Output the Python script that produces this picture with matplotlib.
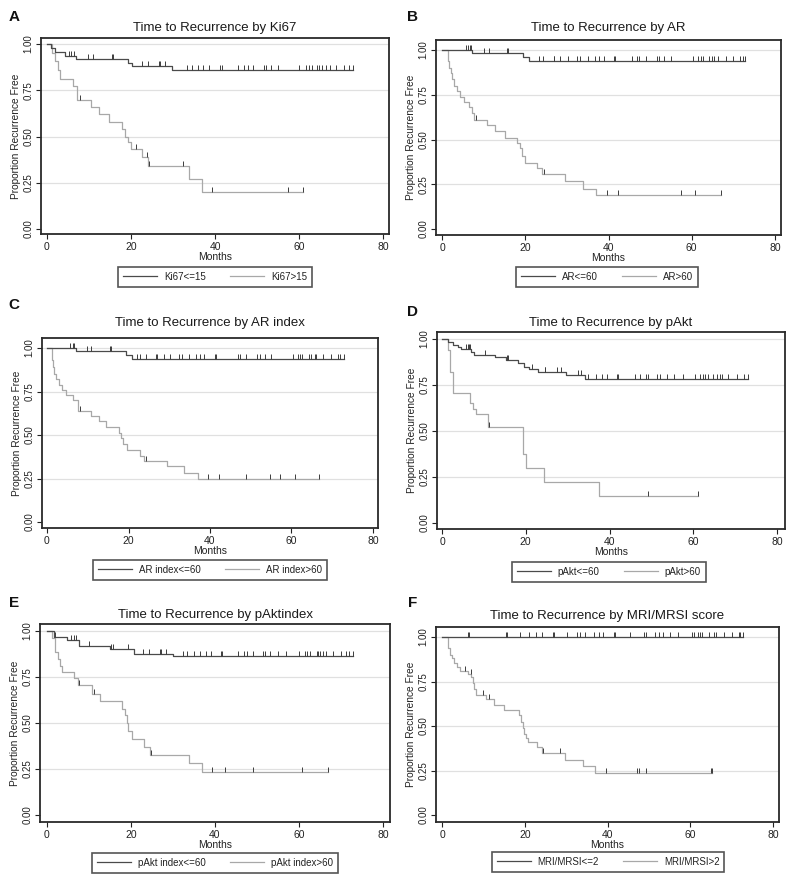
import matplotlib
matplotlib.use('Agg')
import matplotlib.pyplot as plt
from matplotlib.lines import Line2D
from matplotlib.path import Path
import numpy as np

plt.rcParams['font.family'] = ['Liberation Sans', 'DejaVu Sans']

# ---------------- data ----------------
panel_letters = ['A', 'B', 'C', 'D', 'E', 'F']
titles = ['Time to Recurrence by Ki67', 'Time to Recurrence by AR',
          'Time to Recurrence by AR index', 'Time to Recurrence by pAkt',
          'Time to Recurrence by pAktindex', 'Time to Recurrence by MRI/MRSI score']
legend_low = ['Ki67<=15', 'AR<=60', 'AR index<=60', 'pAkt<=60', 'pAkt index<=60', 'MRI/MRSI<=2']
legend_high = ['Ki67>15', 'AR>60', 'AR index>60', 'pAkt>60', 'pAkt index>60', 'MRI/MRSI>2']
x_ticks = [0, 20, 40, 60, 80]
y_ticks = [0.0, 0.25, 0.50, 0.75, 1.00]
y_tick_labels = ['0.00', '0.25', '0.50', '0.75', '1.00']
x_label = 'Months'
y_label = 'Proportion Recurrence Free'

# Panel A: Ki67
ki67_low_times = [1.0, 2.0, 4.4, 6.9, 19.2, 20.3, 29.7]
ki67_low_surv = [0.978, 0.957, 0.937, 0.918, 0.898, 0.879, 0.857]
ki67_low_cens = [5.2, 5.8, 6.4, 9.8, 11.0, 15.4, 15.7, 22.7, 24.0, 26.6, 26.9, 28.1, 33.4,
                 34.6, 36.0, 37.2, 38.6, 41.2, 41.6, 45.4, 46.9, 47.8, 49.0, 51.6, 52.1,
                 53.3, 54.9, 60.1, 61.7, 62.3, 63.0, 64.3, 64.8, 65.5, 66.4, 67.3, 68.9,
                 70.8, 71.8, 72.8]
ki67_high_times = [1.2, 2.0, 2.6, 3.2, 6.1, 7.2, 10.4, 12.3, 14.7, 17.9, 18.6, 19.3, 19.9,
                   22.7, 24.0, 33.7, 36.8]
ki67_high_surv = [0.95, 0.91, 0.86, 0.81, 0.774, 0.70, 0.66, 0.62, 0.58, 0.54, 0.50, 0.47,
                  0.43, 0.39, 0.34, 0.27, 0.20]
ki67_high_cens = [7.8, 21.1, 23.9, 24.4, 32.4, 39.4, 57.3, 60.9]

# Panel B: AR
ar_low_times = [7.2, 19.4, 20.8]
ar_low_surv = [0.981, 0.961, 0.941]
ar_low_cens = [5.8, 6.2, 6.8, 7.0, 10.0, 11.2, 15.6, 15.8, 23.2, 24.2, 26.8, 27.0, 28.4,
               30.2, 32.4, 33.2, 35.0, 36.8, 37.8, 39.0, 41.4, 41.6, 45.6, 46.8, 47.4,
               49.0, 51.6, 52.2, 53.4, 55.0, 60.4, 61.6, 62.2, 62.8, 64.2, 64.8, 65.4,
               66.2, 68.2, 70.0, 71.6, 72.2, 72.8]
ar_high_times = [1.5, 1.8, 2.1, 2.5, 3.0, 3.5, 4.4, 5.2, 6.6, 7.2, 7.6, 10.8, 12.8, 15.2,
                 18.0, 18.8, 19.2, 20.0, 22.8, 24.0, 29.6, 33.8, 37.0]
ar_high_surv = [0.94, 0.90, 0.87, 0.84, 0.80, 0.77, 0.74, 0.71, 0.68, 0.65, 0.61, 0.58,
                0.545, 0.51, 0.48, 0.45, 0.41, 0.37, 0.34, 0.31, 0.27, 0.225, 0.19]
ar_high_cens = [8.2, 24.6, 39.6, 42.4, 57.4, 60.8, 67.0]

# Panel C: AR index
arindex_low_times = [7.2, 19.4, 20.8]
arindex_low_surv = [0.981, 0.962, 0.939]
arindex_low_cens = [5.7, 6.4, 6.7, 9.8, 10.9, 15.5, 15.7, 22.2, 22.9, 24.3, 26.8, 27.1,
                    28.6, 30.1, 32.3, 33.1, 34.8, 36.6, 37.5, 38.6, 41.3, 41.5, 46.8, 47.4,
                    48.9, 51.5, 52.2, 53.4, 55.0, 60.3, 61.6, 62.0, 62.6, 64.2, 64.9, 65.7,
                    66.1, 67.7, 69.8, 71.3, 72.0, 72.8]
arindex_high_times = [1.2, 1.5, 1.8, 2.3, 2.9, 3.7, 4.7, 6.4, 7.5, 7.7, 10.8, 12.7, 14.6,
                      17.6, 18.2, 18.7, 19.6, 22.7, 23.9, 29.4, 33.7, 37.0]
arindex_high_surv = [0.93, 0.89, 0.85, 0.82, 0.79, 0.76, 0.73, 0.70, 0.665, 0.64, 0.61,
                     0.58, 0.545, 0.51, 0.48, 0.45, 0.415, 0.38, 0.35, 0.32, 0.28, 0.245]
arindex_high_cens = [8.0, 24.4, 39.4, 42.3, 48.8, 54.8, 57.1, 60.9, 66.7]

# Panel D: pAkt
pakt_low_times = [1.4, 2.6, 3.8, 4.6, 7.0, 7.6, 12.6, 15.2, 18.2, 19.5, 20.8, 23.0, 29.7, 34.1]
pakt_low_surv = [0.982, 0.967, 0.955, 0.944, 0.93, 0.913, 0.904, 0.886, 0.872, 0.85,
                 0.837, 0.82, 0.805, 0.78]
pakt_low_cens = [5.7, 6.1, 6.5, 6.8, 10.2, 15.6, 15.8, 21.4, 24.6, 24.7, 27.4, 28.5, 32.5,
                 33.3, 34.9, 36.8, 38.1, 39.5, 41.7, 42.1, 46.1, 47.3, 48.7, 49.3, 51.3,
                 52.1, 53.7, 55.3, 57.5, 60.4, 61.6, 62.3, 62.9, 63.6, 64.8, 65.6, 66.4,
                 66.8, 68.4, 70.4, 72.0, 73.0]
pakt_high_times = [1.4, 1.8, 2.6, 6.6, 7.3, 8.1, 11.0, 19.4, 20.0, 24.3, 37.5]
pakt_high_surv = [0.94, 0.82, 0.705, 0.65, 0.62, 0.59, 0.52, 0.376, 0.30, 0.225, 0.148]
pakt_high_cens = [11.2, 49.3, 61.2]

# Panel E: pAkt index
paktindex_low_times = [1.6, 4.75, 7.5, 15.0, 20.6, 29.9]
paktindex_low_surv = [0.967, 0.95, 0.917, 0.904, 0.877, 0.863]
paktindex_low_cens = [1.8, 5.7, 6.5, 7.0, 10.0, 15.2, 15.6, 19.2, 22.8, 24.3, 26.9, 27.1,
                      28.3, 32.5, 33.3, 34.9, 36.4, 37.8, 39.0, 41.4, 41.7, 45.5, 47.0,
                      47.7, 49.1, 51.5, 52.0, 53.2, 54.9, 57.0, 60.0, 61.4, 61.9, 62.6,
                      64.2, 64.6, 65.1, 65.7, 66.4, 68.1, 69.9, 71.3, 71.8, 72.9]
paktindex_high_times = [1.2, 2.0, 2.5, 3.0, 3.6, 6.5, 7.3, 10.7, 12.5, 17.8, 18.6, 19.0,
                        19.4, 20.2, 23.0, 24.6, 33.9, 37.0]
paktindex_high_surv = [0.96, 0.886, 0.85, 0.81, 0.777, 0.745, 0.705, 0.66, 0.617, 0.575,
                       0.545, 0.50, 0.455, 0.412, 0.372, 0.327, 0.28, 0.235]
paktindex_high_cens = [7.7, 11.2, 24.7, 39.4, 42.5, 49.1, 60.8, 66.8]

# Panel F: MRI/MRSI score
mri_low_times = []
mri_low_surv = []
mri_low_cens = [6.4, 6.6, 15.5, 15.7, 18.9, 21.0, 22.8, 24.2, 26.8, 27.0, 30.2, 32.6,
                33.3, 34.6, 36.7, 37.9, 38.8, 41.5, 41.9, 45.5, 48.8, 49.2, 51.6, 52.4,
                53.4, 55.0, 57.0, 60.4, 61.0, 61.9, 62.3, 62.9, 64.5, 65.8, 66.3, 68.1,
                70.1, 71.7, 72.1, 72.8]
mri_high_times = [1.4, 2.0, 2.4, 3.0, 3.6, 4.4, 6.4, 7.0, 7.5, 7.8, 8.1, 10.7, 12.5, 15.1,
                  18.5, 19.1, 19.5, 19.9, 20.4, 20.7, 23.0, 24.2, 29.8, 34.1, 37.0]
mri_high_surv = [0.94, 0.90, 0.88, 0.855, 0.83, 0.81, 0.79, 0.775, 0.74, 0.71, 0.675, 0.65,
                 0.62, 0.59, 0.56, 0.525, 0.49, 0.455, 0.43, 0.41, 0.38, 0.35, 0.31, 0.275,
                 0.235]
mri_high_cens = [5.6, 6.9, 9.9, 11.3, 24.4, 28.6, 39.7, 47.1, 47.5, 49.2, 64.9, 65.3]

panels_data = [
    ((ki67_low_times, ki67_low_surv, ki67_low_cens), (ki67_high_times, ki67_high_surv, ki67_high_cens)),
    ((ar_low_times, ar_low_surv, ar_low_cens), (ar_high_times, ar_high_surv, ar_high_cens)),
    ((arindex_low_times, arindex_low_surv, arindex_low_cens), (arindex_high_times, arindex_high_surv, arindex_high_cens)),
    ((pakt_low_times, pakt_low_surv, pakt_low_cens), (pakt_high_times, pakt_high_surv, pakt_high_cens)),
    ((paktindex_low_times, paktindex_low_surv, paktindex_low_cens), (paktindex_high_times, paktindex_high_surv, paktindex_high_cens)),
    ((mri_low_times, mri_low_surv, mri_low_cens), (mri_high_times, mri_high_surv, mri_high_cens)),
]

# ---------------- layout (pixels) ----------------
W, H = 800, 886
# box (l, t, r, b), x-pixel of 0 and 80, y-pixel of 1.00 and 0.00
geom = [
    dict(box=(41, 38, 389, 234), x0=47, x80=383, y1=44, y0=229, leg=(215, 267), title=28, letter=(14, 17)),
    dict(box=(436, 40, 781, 235), x0=442, x80=775, y1=50, y0=229, leg=(607, 267), title=28, letter=(413, 17)),
    dict(box=(42, 338, 378, 528), x0=47, x80=373, y1=348, y0=522, leg=(210, 560), title=323, letter=(14, 305)),
    dict(box=(437, 332, 785, 529), x0=442, x80=777, y1=339, y0=523, leg=(609, 562), title=323, letter=(413, 312)),
    dict(box=(40, 624, 390, 822), x0=47, x80=383, y1=631, y0=815, leg=(215, 853), title=615, letter=(14, 603)),
    dict(box=(436, 627, 779, 822), x0=442, x80=773, y1=637, y0=815, leg=(608, 852), title=616, letter=(413, 603)),
]

DARK = '#4a4a4a'
LIGHT = '#a8a8a8'
TICKC = '#3c3c3c'
GRID = '#e0e0e0'
FRAME = '#2a2a2a'

censor_marker = Path([(0, 0), (0, 1)], [Path.MOVETO, Path.LINETO])


def step_xy(times, surv, end):
    x = [0.0] + list(times) + [end]
    y = [1.0] + list(surv) + [surv[-1] if len(surv) else 1.0]
    return x, y


def level_at(times, surv, t):
    idx = np.searchsorted(np.asarray(times, dtype=float), t, side='right')
    return 1.0 if idx == 0 else surv[idx - 1]


fig = plt.figure(figsize=(W / 100, H / 100), dpi=100)
fig.patch.set_facecolor('white')

for i, g in enumerate(geom):
    l, t, r, b = g['box']
    ax = fig.add_axes([l / W, 1 - b / H, (r - l) / W, (b - t) / H])
    sx = (g['x80'] - g['x0']) / 80.0
    sy = (g['y0'] - g['y1']) / 1.0
    ax.set_xlim(-(g['x0'] - l) / sx, 80 + (r - g['x80']) / sx)
    ax.set_ylim(-(b - g['y0']) / sy, 1 + (g['y1'] - t) / sy)

    for yv in [0.25, 0.5, 0.75, 1.0]:
        ax.axhline(yv, color=GRID, lw=0.9, zorder=0)

    (lt, ls, lc), (ht, hs, hc) = panels_data[i]
    for (tt, ss, cc, col) in [(ht, hs, hc, LIGHT), (lt, ls, lc, DARK)]:
        end = max(cc)
        x, y = step_xy(tt, ss, end)
        ax.step(x, y, where='post', color=col, lw=0.9, zorder=2)
        lev = [level_at(tt, ss, c) for c in cc]
        ax.plot(cc, lev, linestyle='none', marker=censor_marker, markersize=7,
                markeredgewidth=0.7, color=TICKC, zorder=3)

    ax.set_xticks(x_ticks)
    ax.set_xticklabels([str(v) for v in x_ticks])
    ax.set_yticks(y_ticks)
    ax.set_yticklabels(y_tick_labels, rotation=90, va='center')
    ax.tick_params(direction='out', length=3.5, width=0.8, pad=2,
                   color='#222222', labelcolor='#222222')
    ax.tick_params(axis='x', labelsize=7.5)
    ax.tick_params(axis='y', labelsize=7)
    for sp in ax.spines.values():
        sp.set_linewidth(1.3)
        sp.set_color(FRAME)

    # titles, axis labels, panel letter
    cx = (l + r) / 2
    fig.text(cx / W, 1 - g['title'] / H, titles[i], ha='center', va='center',
             fontsize=9.5, color='#1a1a1a')
    fig.text(cx / W, 1 - (b + 23) / H, x_label, ha='center', va='center', fontsize=7.5,
             color='#222222')
    fig.text((l - 25) / W, 1 - ((t + b) / 2) / H, y_label, ha='center', va='center',
             rotation=90, fontsize=7.3, color='#222222')
    fig.text(g['letter'][0] / W, 1 - g['letter'][1] / H, panel_letters[i], ha='center',
             va='center', fontsize=11, fontweight='bold', color='#111111')

    handles = [Line2D([], [], color=DARK, lw=0.9), Line2D([], [], color=LIGHT, lw=0.9)]
    leg = ax.legend(handles, [legend_low[i], legend_high[i]], loc='upper center',
                    bbox_to_anchor=(g['leg'][0] / W, 1 - g['leg'][1] / H),
                    bbox_transform=fig.transFigure, ncol=2, frameon=True, fancybox=False,
                    borderaxespad=0, handlelength=3.5, columnspacing=2.5, handletextpad=0.7,
                    borderpad=0.5, fontsize=7)
    leg.get_frame().set_edgecolor(FRAME)
    leg.get_frame().set_linewidth(1.2)
    for txt in leg.get_texts():
        txt.set_color('#222222')

fig.savefig('out.png', dpi=100, facecolor='white')
